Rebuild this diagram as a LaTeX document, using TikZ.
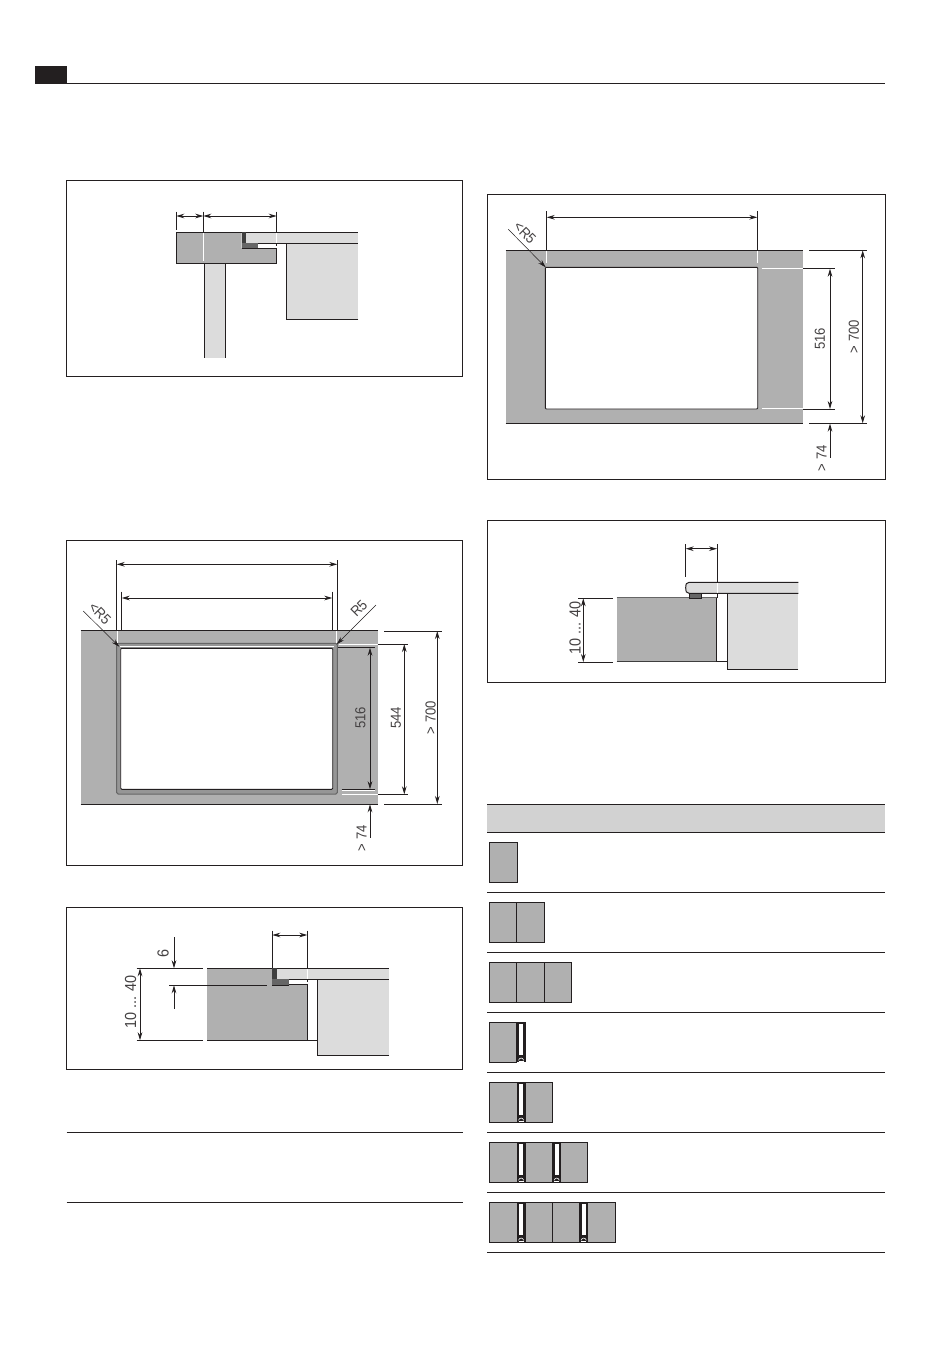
\documentclass[tikz,border=0pt]{standalone}
\usepackage{fontspec}
\setmainfont{Liberation Sans}
\usetikzlibrary{arrows.meta}
\definecolor{counter}{HTML}{B0B0B0}
\definecolor{lightg}{HTML}{DCDCDC}
\definecolor{headg}{HTML}{D2D2D2}
\definecolor{darkg}{HTML}{3E3E3E}
\definecolor{midg}{HTML}{666666}
\definecolor{ink}{HTML}{231F20}
\tikzset{
  framebox/.style={draw=ink,line width=1pt},
  ln/.style={draw=ink,line width=1pt},
  wl/.style={draw=white,line width=1pt},
  dimline/.style={draw=ink,line width=0.9pt,{Stealth[length=8pt,width=4.6pt]}-{Stealth[length=8pt,width=4.6pt]}},
  dimone/.style={draw=ink,line width=0.9pt,-{Stealth[length=8pt,width=4.6pt]}},
  leader/.style={draw=ink,line width=0.5pt,-{Stealth[length=8pt,width=4.6pt]}},
  lab/.style={inner sep=0pt,text=ink!85,font=\fontsize{14.5}{14.5}\selectfont},
  lab90/.style={rotate=90,xscale=.9,lab},
  labbig/.style={rotate=90,xscale=.9,lab,font=\fontsize{16}{16}\selectfont},
  labdn/.style={rotate=-45,xscale=.9,lab},
  labup/.style={rotate=45,xscale=.9,lab},
  sect/.style={fill=counter},
  lite/.style={fill=lightg},
  tbox/.style={fill=counter,draw=ink,line width=0.9pt},
}
\newcommand{\slotbar}[2]{% x, y top
  \fill[ink] (#1,#2) rectangle ++(8.8,40);
  \fill[white] ({#1+2.2},{#2+1.6}) rectangle ++(4.4,31.5);
  \draw[white,line width=0.6pt] ({#1+1.8},{#2+38}) .. controls ({#1+2.6},{#2+35}) and ({#1+6.2},{#2+35}) .. ({#1+7},{#2+38});
  \draw[white,line width=0.6pt] ({#1+1.8},{#2+38.6}) -- ({#1+7},{#2+38.6});
}
\begin{document}
\begin{tikzpicture}[x=1pt,y=-1pt]
\useasboundingbox (0,0) rectangle (950,1369);
\fill[white] (0,0) rectangle (950,1369);
% header
\fill[ink] (35,66) rectangle (66.7,84);
\draw[ln] (35,83.6) -- (885,83.6);

% ---------- panel 1
\draw[framebox] (66.7,180.3) rectangle (462.3,376);
\fill[lite] (204.3,263.3) rectangle (225.7,357.7);
\draw[ln] (204.3,263.3) -- (204.3,358);
\draw[ln] (225.7,263.3) -- (225.7,358);
\fill[lite] (286.7,243.3) rectangle (358.3,319.3);
\draw[ln] (358.3,319.3) -- (286.7,319.3) -- (286.7,243.3);
\fill[sect] (176.3,232.3) -- (241.7,232.3) -- (241.7,248.3) -- (276.7,248.3) -- (276.7,263.3) -- (176.3,263.3) -- cycle;
\draw[ln] (241.7,232.3) -- (176.3,232.3) -- (176.3,263.3) -- (276.7,263.3) -- (276.7,248.3) -- (241.7,248.3);
\fill[lite] (245.7,232.3) rectangle (358.3,243.3);
\draw[ln] (245.7,232.3) -- (358.3,232.3);
\draw[ln] (245.7,243.3) -- (358.3,243.3);
\fill[darkg] (241.7,232.3) rectangle (245.7,243.3);
\fill[midg] (241.7,243.3) rectangle (257.7,248.3);
\draw[ln] (241.7,248.3) -- (257.7,248.3);
\draw[ln] (176.3,211.7) -- (176.3,229.5);
\draw[ln] (203.3,211.7) -- (203.3,232.3);
\draw[wl] (203.3,232.8) -- (203.3,261);
\draw[ln] (276.7,211.7) -- (276.7,232);
\draw[wl] (276.7,232.8) -- (276.7,242.8);
\draw[ln] (276.7,243) -- (276.7,246);
\draw[dimline] (176.3,216) -- (203.3,216);
\draw[dimline] (203.3,216) -- (276.7,216);

% ---------- panel 2
\draw[framebox] (66.7,540.3) rectangle (462.3,865);
\fill[sect] (80.7,630.7) rectangle (377.7,804);
\draw[ln] (80.7,630.7) -- (377.7,630.7);
\draw[ln] (80.7,804) -- (377.7,804);
\draw[fill=counter!85!black,draw=midg,line width=1pt,rounded corners=1.5pt] (116.7,643.3) rectangle (337.3,794);
\draw[fill=white,draw=ink,line width=0.9pt,rounded corners=1pt] (120.7,648.3) rectangle (332.7,789.3);
\draw[white,line width=0.5pt] (119.7,646.6) -- (333.7,646.6);
% extension lines
\draw[ln] (116.7,560) -- (116.7,630.7);
\draw[wl] (117.3,631.2) -- (117.3,643);
\draw[ln] (337.3,560) -- (337.3,630.7);
\draw[wl] (336.6,631.2) -- (336.6,643);
\draw[ln] (121.7,591.7) -- (121.7,630.7);
\draw[ln] (332.3,591.7) -- (332.3,630.7);
\draw[dimline] (116.7,564.3) -- (337.3,564.3);
\draw[dimline] (121.7,598) -- (332.3,598);
\draw[ln] (384,631) -- (442.3,631);
\draw[ln] (384,804) -- (442.3,804);
\draw[wl] (338.5,644) -- (377.5,644);
\draw[ln] (377.7,644) -- (408.3,644);
\draw[wl] (341.7,794.6) -- (377.5,794.6);
\draw[ln] (377.7,794.3) -- (408.3,794.3);
\draw[ln] (338,647.7) -- (375,647.7);
\draw[wl] (341.7,790.7) -- (375,790.7);
\draw[ln] (341.7,789.3) -- (375,789.3);
\draw[dimline] (370,647.7) -- (370,789.3);
\draw[dimline] (404.3,644) -- (404.3,794.3);
\draw[dimline] (437.3,631) -- (437.3,804);
\draw[dimone] (370,837.7) -- (370,804.3);
\node[lab90] (p2a) at (360.3,718) {516};
\node[lab90] (p2b) at (396,718) {544};
\node[lab90] (p2c) at (430.7,717.7) {> 700};
\node[lab90] (p2d) at (361.7,838.3) {> 74};
\node[labdn] (p2e) at (100,613.5) {<R5};
\node[labup] (p2f) at (359,608.5) {R5};
\draw[leader] (83.3,611) -- (119.3,646.7);
\draw[leader] (376,605) -- (336.7,644.3);

% ---------- panel 3
\draw[framebox] (66.7,907.3) rectangle (462.3,1069.3);
\fill[lite] (317.3,979.3) rectangle (389,1055.3);
\draw[ln] (389,1055.3) -- (317.3,1055.3) -- (317.3,979.3);
\fill[sect] (207,968.3) -- (272.3,968.3) -- (272.3,984.3) -- (307.3,984.3) -- (307.3,1040.3) -- (207,1040.3) -- cycle;
\draw[ln] (207,968.3) -- (272.3,968.3);
\draw[ln] (288.7,984.3) -- (307.3,984.3) -- (307.3,1040.3) -- (207,1040.3);
\draw[ln] (307.3,1040.3) -- (317.3,1040.3);
\fill[lite] (276.7,968.3) rectangle (389,979.3);
\draw[ln] (272.3,968.3) -- (389,968.3);
\draw[ln] (276.7,979.3) -- (389,979.3);
\fill[darkg] (272.3,968.3) rectangle (276.7,979.3);
\fill[midg] (272.3,979.3) rectangle (288.7,984.8);
\draw[ln] (272.3,985) -- (288.7,985);
\draw[ln] (272.3,930.7) -- (272.3,968);
\draw[ln] (307.3,930.7) -- (307.3,968);
\draw[wl] (307.3,968.8) -- (307.3,978.8);
\draw[ln] (307.3,979) -- (307.3,981.7);
\draw[dimline] (272.3,935) -- (307.3,935);
\draw[ln] (136.7,968.3) -- (202.7,968.3);
\draw[ln] (136.7,1040.3) -- (202.7,1040.3);
\draw[ln] (169.3,985.3) -- (266.7,985.3);
\draw[dimone] (174,937.3) -- (174,968.3);
\draw[dimone] (174,1008.7) -- (174,985.3);
\draw[dimline] (140,968.3) -- (140,1040.3);
\node[labbig] (p3a) at (163,953.3) {6};
\node[labbig] (p3b) at (130.7,1001.7) {10 ... 40};

% ---------- panel 4
\draw[framebox] (487.3,194.3) rectangle (885,479);
\fill[sect] (505.7,250.3) rectangle (803,423.3);
\draw[ln] (505.7,250.3) -- (803,250.3);
\draw[ln] (505.7,423.3) -- (803,423.3);
\draw[fill=white,draw=ink,line width=0.9pt,rounded corners=1pt] (545.3,267.3) rectangle (757.7,409);
\draw[ln] (546.7,211) -- (546.7,250.3);
\draw[wl] (546.7,250.8) -- (546.7,263);
\draw[ln] (757.3,211) -- (757.3,250.3);
\draw[wl] (757.3,250.8) -- (757.3,263);
\draw[dimline] (546.7,217.3) -- (757.3,217.3);
\draw[ln] (809.3,250.3) -- (866.7,250.3);
\draw[ln] (809.3,423.3) -- (866.7,423.3);
\draw[wl] (761.7,268.7) -- (803,268.7);
\draw[ln] (803,268.7) -- (835,268.7);
\draw[wl] (762.3,408.2) -- (803,408.2);
\draw[ln] (803,409) -- (835,409);
\draw[dimline] (830,268.7) -- (830,409);
\draw[dimline] (862.7,250.3) -- (862.7,423.3);
\draw[dimone] (830,457.7) -- (830,423.6);
\node[lab90] (p4a) at (820,339) {516};
\node[lab90] (p4b) at (854,336.7) {> 700};
\node[lab90] (p4c) at (821.7,458.3) {> 74};
\node[labdn] (p4d) at (525,233) {<R5};
\draw[leader] (508.3,229.3) -- (545.7,267.3);

% ---------- panel 5
\draw[framebox] (487.3,520.3) rectangle (885,682.7);
\fill[lite] (727.3,593.3) rectangle (798.3,669.3);
\draw[ln] (798.3,669.3) -- (727.3,669.3) -- (727.3,593.3);
\fill[sect] (616.7,597.7) rectangle (716.7,661.7);
\draw[midg,line width=1pt] (616.7,597.7) -- (716.7,597.7);
\draw[darkg,line width=1pt] (616.7,661.7) -- (716.7,661.7);
\draw[ln] (716.7,597.7) -- (716.7,661.7) -- (727.3,661.7);
\fill[lite] (798.3,582.3) -- (689,582.3) .. controls (686.5,582.3) and (685.7,584) .. (685.7,587.8) .. controls (685.7,591.5) and (686.5,593.3) .. (689,593.3) -- (798.3,593.3) -- cycle;
\draw[ln] (798.3,582.3) -- (689,582.3) .. controls (686.5,582.3) and (685.7,584) .. (685.7,587.8) .. controls (685.7,591.5) and (686.5,593.3) .. (689,593.3) -- (798.3,593.3);
\draw[fill=midg,draw=ink,line width=0.7pt] (689.3,593.7) rectangle (701.7,598.3);
\draw[ln] (685.7,544) -- (685.7,577.3);
\draw[ln] (717,544) -- (717,582);
\draw[wl] (717,582.8) -- (717,592.8);
\draw[ln] (717,593) -- (717,597.7);
\draw[dimline] (685.7,548.7) -- (717,548.7);
\draw[ln] (578.3,598.3) -- (613.3,598.3);
\draw[ln] (578.3,662) -- (613.3,662);
\draw[dimline] (583.3,598.3) -- (583.3,662);
\node[labbig] (p5a) at (575,628.3) {10 ... 40};

% ---------- left rules
\draw[ln] (66.7,1132) -- (463,1132);
\draw[ln] (66.7,1202.3) -- (463,1202.3);

% ---------- table
\fill[headg] (487.3,804.3) rectangle (885,832.3);
\foreach \yy in {804.3,832.3,892.3,952.3,1012.3,1072.3,1132.3,1192.3,1252.3}
  \draw[ln] (487.3,\yy) -- (885,\yy);
% rows 1-3
\draw[tbox] (489.3,842.3) rectangle (517.3,882.3);
\draw[tbox] (489.3,902.3) rectangle (516.3,942.3);
\draw[tbox] (516.3,902.3) rectangle (544.3,942.3);
\draw[tbox] (489.3,962.3) rectangle (516.3,1002.3);
\draw[tbox] (516.3,962.3) rectangle (544.3,1002.3);
\draw[tbox] (544.3,962.3) rectangle (571.3,1002.3);
% row 4
\draw[tbox] (489.3,1022.3) rectangle (516.7,1062.3);
\slotbar{516.7}{1022.3}
% row 5
\draw[tbox] (489.3,1082.3) rectangle (552.7,1122.3);
\slotbar{516.7}{1082.3}
% row 6
\draw[tbox] (489.3,1142.3) rectangle (587.7,1182.3);
\slotbar{516.7}{1142.3}
\slotbar{552.3}{1142.3}
% row 7
\draw[tbox] (489.3,1202.3) rectangle (615.7,1242.3);
\draw[ink,line width=0.8pt] (552.3,1202.3) -- (552.3,1242.3);
\slotbar{516.7}{1202.3}
\slotbar{579.3}{1202.3}
\end{tikzpicture}
\end{document}
